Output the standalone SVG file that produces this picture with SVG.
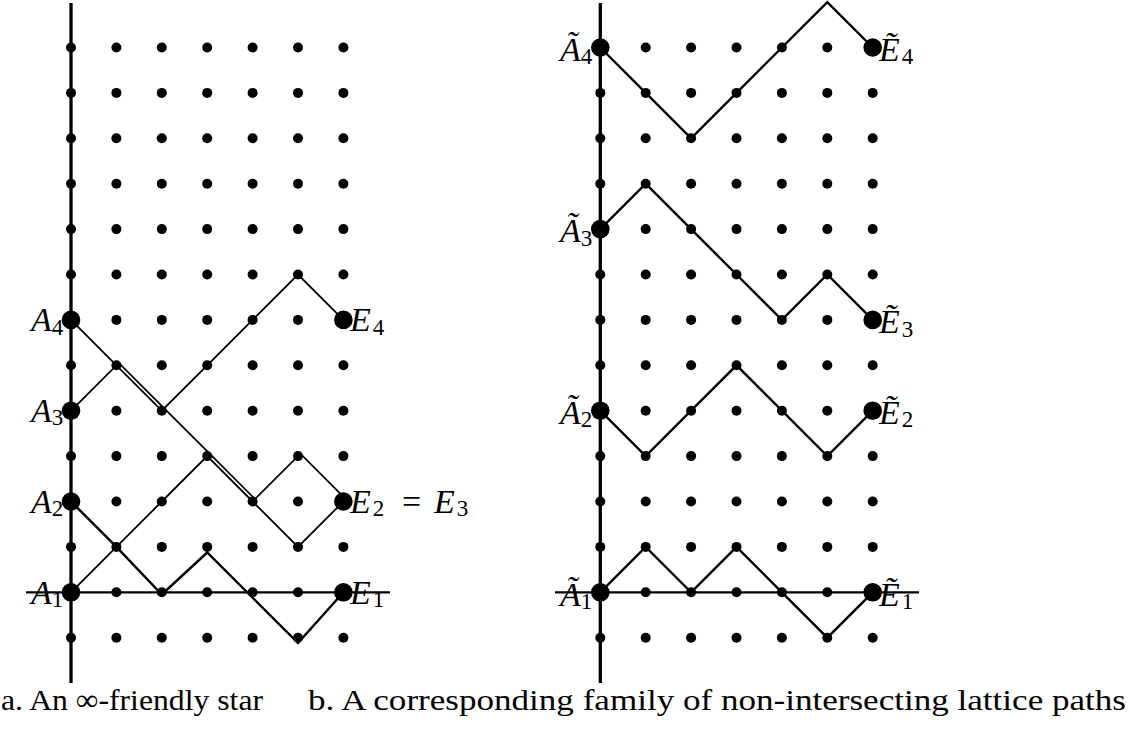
<svg xmlns="http://www.w3.org/2000/svg" width="1130" height="729" viewBox="0 0 1130 729">
<style>
.axv{stroke:#000;stroke-width:3.3;fill:none}
.axh{stroke:#000;stroke-width:2.2;fill:none}
.pth{stroke:#000;stroke-width:2.4;fill:none;stroke-linejoin:miter}
.pth2{stroke:#000;stroke-width:1.8;fill:none;stroke-linejoin:miter}
.big{fill:#000}
.lab{font-style:italic;font-size:34px;fill:#000}
.sub{font-size:23px;font-style:normal}
.up{font-size:34px;fill:#000}
.cap{font-size:30px;fill:#000}
</style>
<defs>
<circle id="dt" r="5"/>
<g id="col">
<use href="#dt" y="637.7"/><use href="#dt" y="592.3"/><use href="#dt" y="546.9"/><use href="#dt" y="501.5"/><use href="#dt" y="456.1"/><use href="#dt" y="410.7"/><use href="#dt" y="365.3"/><use href="#dt" y="319.9"/><use href="#dt" y="274.5"/><use href="#dt" y="229.1"/><use href="#dt" y="183.7"/><use href="#dt" y="138.3"/><use href="#dt" y="92.9"/><use href="#dt" y="47.5"/>
</g>
</defs>
<g id="axes">
<line class="axv" x1="71" y1="3" x2="71" y2="683"/>
<line class="axh" x1="26" y1="592.3" x2="390" y2="592.3"/>
<line class="axv" x1="600.3" y1="3" x2="600.3" y2="683"/>
<line class="axh" x1="555" y1="592.3" x2="919" y2="592.3"/>
</g>
<g id="lattice-left">
<use href="#col" x="71"/><use href="#col" x="116.4"/><use href="#col" x="161.8"/><use href="#col" x="207.2"/><use href="#col" x="252.6"/><use href="#col" x="298"/><use href="#col" x="343.4"/>
</g>
<g id="lattice-right">
<use href="#col" x="600.3"/><use href="#col" x="645.7"/><use href="#col" x="691.1"/><use href="#col" x="736.5"/><use href="#col" x="781.9"/><use href="#col" x="827.3"/><use href="#col" x="872.7"/>
</g>
<g id="connectors">
<polyline class="pth2" points="71,592.3 116.4,546.9 161.8,501.5 207.2,456.1 252.6,501.5 298,546.9 343.4,501.5"/>
<polyline class="pth" points="71,501.5 116.4,546.9 161.8,594.5 207.2,552.5 298,643 343.4,592.3"/>
<polyline class="pth2" points="73.4,408.3 118.8,362.9 164.2,408.3 209.6,453.7 255,499.1 300.4,453.7 345.8,499.1"/>
<polyline class="pth2" points="71,319.9 116.4,365.3 161.8,410.7 207.2,365.3 252.6,319.9 298,274.5 343.4,319.9"/>
<polyline class="pth" points="600.3,592.3 645.7,546.9 691.1,592.3 736.5,546.9 781.9,592.3 827.3,637.7 872.7,592.3"/>
<polyline class="pth" points="600.3,410.7 645.7,456.1 691.1,410.7 736.5,365.3 781.9,410.7 827.3,456.1 872.7,410.7"/>
<polyline class="pth" points="600.3,229.1 645.7,183.7 691.1,229.1 736.5,274.5 781.9,319.9 827.3,274.5 872.7,319.9"/>
<polyline class="pth" points="600.3,47.5 645.7,92.9 691.1,138.3 736.5,92.9 781.9,47.5 827.3,2.1 872.7,47.5"/>
</g>
<g font-family="Liberation Serif, Times New Roman, serif">
<g id="A1"><circle class="big" cx="71" cy="592.3" r="9.3"/><text class="lab" x="31" y="603.5">A<tspan class="sub" dy="3.5">1</tspan></text></g>
<g id="A2"><circle class="big" cx="71" cy="501.5" r="9.3"/><text class="lab" x="31" y="512.7">A<tspan class="sub" dy="3.5">2</tspan></text></g>
<g id="A3"><circle class="big" cx="71" cy="410.7" r="9.3"/><text class="lab" x="31" y="421.9">A<tspan class="sub" dy="3.5">3</tspan></text></g>
<g id="A4"><circle class="big" cx="71" cy="319.9" r="9.3"/><text class="lab" x="31" y="331.1">A<tspan class="sub" dy="3.5">4</tspan></text></g>
<g id="E1"><circle class="big" cx="343.4" cy="592.3" r="9.3"/><text class="lab" x="350" y="603.5">E<tspan class="sub" dx="2" dy="3.5">1</tspan></text></g>
<g id="E2"><circle class="big" cx="343.4" cy="501.5" r="9.3"/><text class="lab" x="350" y="512.7">E<tspan class="sub" dx="2" dy="3.5">2</tspan></text><text class="up" x="402" y="512.7">=</text><text class="lab" x="434" y="512.7">E<tspan class="sub" dx="2" dy="3.5">3</tspan></text></g>
<g id="E4"><circle class="big" cx="343.4" cy="319.9" r="9.3"/><text class="lab" x="350" y="331.1">E<tspan class="sub" dx="2" dy="3.5">4</tspan></text></g>
<g id="tA1"><circle class="big" cx="600.3" cy="592.3" r="9.3"/><text class="lab" x="560" y="605.5">Ã<tspan class="sub" dy="3.5">1</tspan></text></g>
<g id="tA2"><circle class="big" cx="600.3" cy="410.7" r="9.3"/><text class="lab" x="560" y="423.9">Ã<tspan class="sub" dy="3.5">2</tspan></text></g>
<g id="tA3"><circle class="big" cx="600.3" cy="229.1" r="9.3"/><text class="lab" x="560" y="242.3">Ã<tspan class="sub" dy="3.5">3</tspan></text></g>
<g id="tA4"><circle class="big" cx="600.3" cy="47.5" r="9.3"/><text class="lab" x="560" y="60.7">Ã<tspan class="sub" dy="3.5">4</tspan></text></g>
<g id="tE1"><circle class="big" cx="872.7" cy="592.3" r="9.3"/><text class="lab" x="879" y="605.5">Ẽ<tspan class="sub" dx="2" dy="3.5">1</tspan></text></g>
<g id="tE2"><circle class="big" cx="872.7" cy="410.7" r="9.3"/><text class="lab" x="879" y="423.9">Ẽ<tspan class="sub" dx="2" dy="3.5">2</tspan></text></g>
<g id="tE3"><circle class="big" cx="872.7" cy="319.9" r="9.3"/><text class="lab" x="879" y="333.1">Ẽ<tspan class="sub" dx="2" dy="3.5">3</tspan></text></g>
<g id="tE4"><circle class="big" cx="872.7" cy="47.5" r="9.3"/><text class="lab" x="879" y="60.7">Ẽ<tspan class="sub" dx="2" dy="3.5">4</tspan></text></g>
<g id="captions">
<text class="cap" x="1" y="710" textLength="262" lengthAdjust="spacingAndGlyphs">a. An ∞-friendly star</text>
<text class="cap" x="308" y="710" textLength="818" lengthAdjust="spacingAndGlyphs">b. A corresponding family of non-intersecting lattice paths</text>
</g>
</g>
</svg>
